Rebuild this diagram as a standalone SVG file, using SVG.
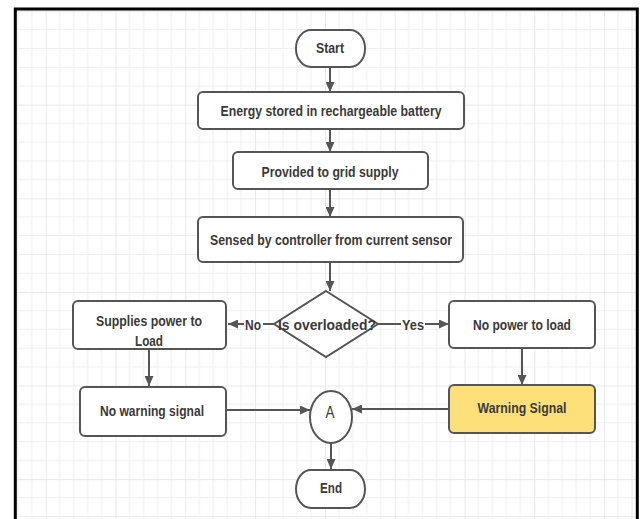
<svg xmlns="http://www.w3.org/2000/svg" width="640" height="519" viewBox="0 0 640 519">
<style>
.box{fill:#fff;stroke:#555;stroke-width:2}
.warn{fill:#fde07a;stroke:#555;stroke-width:2}
.t{font-family:"Liberation Sans",Arial,sans-serif;font-size:15.5px;font-weight:bold;fill:#3a3a3a;text-anchor:middle}
.c{fill:none;stroke:#555;stroke-width:2}
.ca{fill:none;stroke:#555;stroke-width:2;marker-end:url(#ah)}
.minor{stroke:#eeeeee;stroke-width:1}
.major{stroke:#e2e2e2;stroke-width:1.5}
</style>
<defs>
<marker id="ah" markerUnits="userSpaceOnUse" markerWidth="10" markerHeight="9" refX="10" refY="4.5" orient="auto">
<path d="M0,0 L10,4.5 L0,9 z" fill="#555"/>
</marker>
<pattern id="grid" patternUnits="userSpaceOnUse" x="45.7" y="11.1" width="69.8" height="93.6">
<path class="minor" d="M13.96,0V93.6M27.92,0V93.6M41.88,0V93.6M55.84,0V93.6M0,18.72H69.8M0,37.44H69.8M0,56.16H69.8M0,74.88H69.8"/>
<path class="major" d="M0,0V93.6M0,0H69.8"/>
</pattern>
</defs>
<rect x="0" y="0" width="640" height="519" fill="#fff"/>
<rect x="16" y="10" width="620" height="515" fill="url(#grid)"/>
<rect x="15.3" y="9" width="622" height="520" fill="none" stroke="#000" stroke-width="3"/>

<g id="connectors">
<path class="ca" d="M330,66 V92"/>
<path class="ca" d="M330,129 V152"/>
<path class="ca" d="M330,189 V217"/>
<path class="ca" d="M330,262 V291"/>
<path class="c" d="M274,324 H263"/>
<path class="ca" d="M244,324 H228"/>
<text class="t" x="253" y="329.5" textLength="16" lengthAdjust="spacingAndGlyphs">No</text>
<path class="c" d="M378,324 H401"/>
<path class="ca" d="M425,324 H449"/>
<text class="t" x="413" y="329.5" textLength="22" lengthAdjust="spacingAndGlyphs">Yes</text>
<path class="ca" d="M149,349 V386"/>
<path class="ca" d="M522,348 V385"/>
<path class="ca" d="M226,410 H310"/>
<path class="ca" d="M449,409 H352"/>
<path class="ca" d="M331,443 V469"/>
</g>

<g id="start">
<rect class="box" x="296" y="30" width="69" height="37" rx="15" ry="18"/>
<text class="t" x="330" y="53" textLength="28" lengthAdjust="spacingAndGlyphs">Start</text>
</g>
<g id="energy">
<rect class="box" x="198" y="92" width="266" height="37" rx="5"/>
<text class="t" x="331" y="116" textLength="221" lengthAdjust="spacingAndGlyphs">Energy stored in rechargeable battery</text>
</g>
<g id="provided">
<rect class="box" x="233" y="152" width="195" height="37" rx="5"/>
<text class="t" x="330" y="176.5" textLength="137" lengthAdjust="spacingAndGlyphs">Provided to grid supply</text>
</g>
<g id="sensed">
<rect class="box" x="198" y="217" width="265" height="45" rx="5"/>
<text class="t" x="331" y="244.5" textLength="242" lengthAdjust="spacingAndGlyphs">Sensed by controller from current sensor</text>
</g>
<g id="decision">
<polygon class="box" points="326,291 378,324 326,357 274,324"/>
<text class="t" x="327" y="329.5" textLength="98" lengthAdjust="spacingAndGlyphs">Is overloaded?</text>
</g>
<g id="supplies">
<rect class="box" x="73" y="301" width="153" height="48" rx="5"/>
<text class="t" x="149" y="325.5" textLength="106" lengthAdjust="spacingAndGlyphs">Supplies power to</text>
<text class="t" x="149" y="345.5" textLength="28" lengthAdjust="spacingAndGlyphs">Load</text>
</g>
<g id="nopower">
<rect class="box" x="449" y="301" width="146" height="47" rx="5"/>
<text class="t" x="522" y="329.5" textLength="98" lengthAdjust="spacingAndGlyphs">No power to load</text>
</g>
<g id="nowarning">
<rect class="box" x="80" y="387" width="146" height="49" rx="5"/>
<text class="t" x="152" y="415.5" textLength="104" lengthAdjust="spacingAndGlyphs">No warning signal</text>
</g>
<g id="warning">
<rect class="warn" x="449" y="385" width="146" height="48" rx="5"/>
<text class="t" x="522" y="412.5" textLength="89" lengthAdjust="spacingAndGlyphs">Warning Signal</text>
</g>
<g id="connectorA">
<ellipse class="box" cx="331" cy="417" rx="21" ry="26"/>
<text class="t" x="330" y="418" textLength="9" lengthAdjust="spacingAndGlyphs" style="font-weight:normal;font-size:16px">A</text>
</g>
<g id="end">
<rect class="box" x="296" y="470" width="69" height="38" rx="15" ry="19"/>
<text class="t" x="331" y="492.5" textLength="22" lengthAdjust="spacingAndGlyphs">End</text>
</g>
</svg>
